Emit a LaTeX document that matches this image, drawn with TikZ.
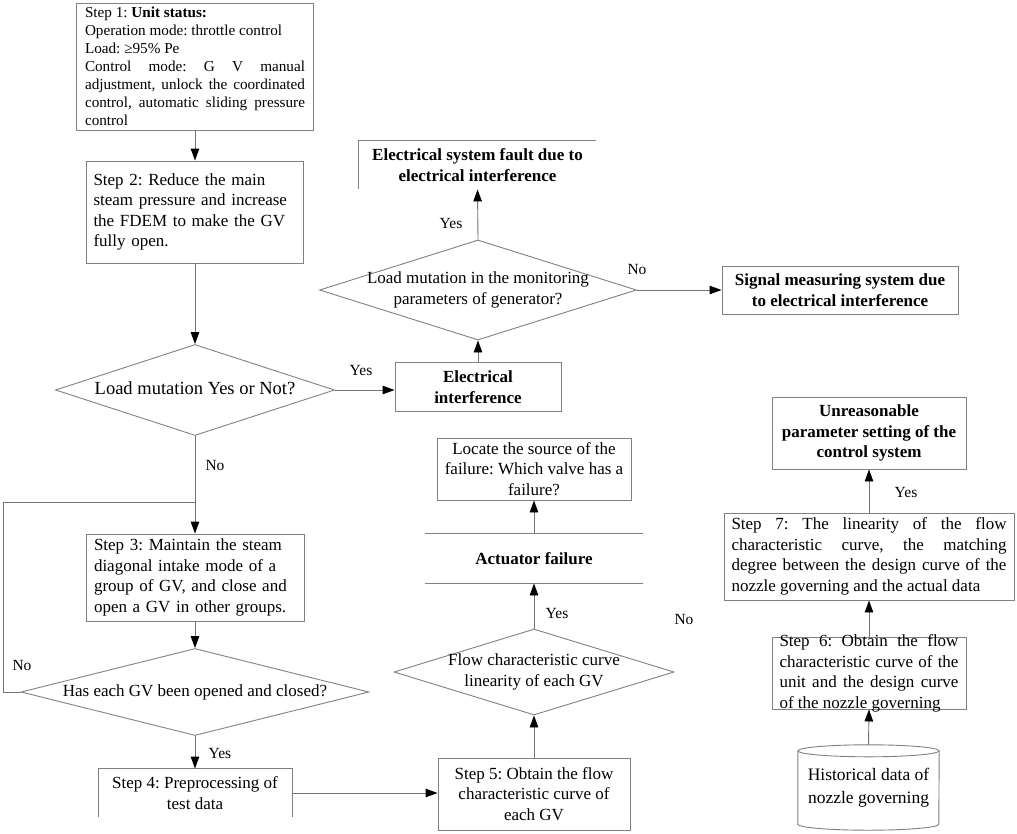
\documentclass[tikz,border=0pt]{standalone}
\usepackage{fontspec}
\setmainfont{Liberation Serif}
\usetikzlibrary{shapes.geometric,arrows.meta,calc}
\frenchspacing
\newcommand{\fs}[2]{\fontsize{#1pt}{#2pt}\selectfont}
\newcommand{\zc}[1]{\makebox[0pt]{\begin{tabular}{@{}c@{}}#1\end{tabular}}}
\newcommand{\nohy}{\frenchspacing\hyphenpenalty=10000 \exhyphenpenalty=10000 \tolerance=9999 }
\definecolor{linec}{gray}{0.5}
\definecolor{arrc}{gray}{0.45}
\begin{document}
\begin{tikzpicture}[x=1pt,y=-1pt,
 box/.style={draw=linec, line width=0.9pt, rectangle, inner sep=0pt, align=center, font=\fs{17}{20.5}\frenchspacing},
 bbox/.style={box, font=\fs{17}{20.5}\bfseries\frenchspacing},
 jbox/.style={box, align=justify, font=\fs{17}{20.5}\nohy},
 dia/.style={draw=linec, line width=0.9pt, diamond, inner sep=0pt, font=\fs{17}{20.5}},
 arr/.style={draw=arrc, line width=0.9pt, -{Triangle[length=12pt,width=8.5pt,color=black]}},
 edge/.style={draw=linec, line width=0.9pt},
 lab/.style={font=\fs{15.5}{18}, inner sep=0pt}
]
\useasboundingbox (0,0) rectangle (1017,833);

% left column
\node[jbox, text width=220pt, inner xsep=8.5pt, minimum height=127pt, font=\fs{15.2}{18}\nohy] (s1) at (195,66.5)
 {Step 1: \textbf{Unit status:}\par Operation mode: throttle control\par Load: ≥95\% Pe\par Control mode: G V manual\linebreak adjustment, unlock the coordinated\linebreak control, automatic sliding pressure\linebreak control};
\node[box, align=left, text width=203pt, inner xsep=7pt, minimum height=102pt] (s2) at (195,212)
 {Step 2: Reduce the main\\steam pressure and increase\\the FDEM to make the GV\\fully open.};
\node[dia, minimum width=279pt, minimum height=91pt, font=\fs{18.5}{22}] (d1) at (195,390)
 {\zc{Load mutation Yes or Not?}};
\node[box, align=left, text width=202pt, inner xsep=8pt, minimum height=87pt] (s3) at (195,577.5)
 {Step 3: Maintain the steam\\diagonal intake mode of a\\group of GV, and close and\\open a GV in other groups.};
\node[dia, minimum width=348pt, minimum height=87pt] (d2) at (195,692)
 {\zc{Has each GV been opened and closed?}};
\node[box, draw=none, minimum width=193pt, minimum height=48pt] (s4) at (195,793)
 {Step 4: Preprocessing of\\test data};
\draw[edge] (s4.south west) -- (s4.north west) -- (s4.north east) -- (s4.south east);

% middle column
\node[bbox, minimum width=166pt, minimum height=49pt] (ei) at (478,387)
 {Electrical\\interference};
\node[dia, minimum width=317pt, minimum height=100pt] (d3) at (478,290)
 {\zc{Load mutation in the monitoring\\parameters of generator?}};
\node[bbox, draw=none, minimum width=237pt, minimum height=48pt] (esf) at (477.5,165)
 {Electrical system fault due to\\electrical interference};
\draw[edge] (esf.south west) -- (esf.north west) -- (esf.north east);
\node[box, minimum width=194pt, minimum height=62pt] (loc) at (534,469)
 {Locate the source of the\\failure: Which valve has a\\failure?};
\node[bbox, draw=none, minimum width=217pt, minimum height=49pt] (act) at (534,558.5)
 {Actuator failure};
\draw[edge] (act.north west) -- (act.north east);
\draw[edge] (act.south west) -- (act.south east);
\node[dia, minimum width=280pt, minimum height=86pt] (d4) at (534,672)
 {\zc{Flow characteristic curve\\linearity of each GV}};
\node[box, minimum width=192pt, minimum height=72pt] (s5) at (534,794)
 {Step 5: Obtain the flow\\characteristic curve of\\each GV};

% right column
\node[bbox, minimum width=236pt, minimum height=48pt] (sig) at (840,290)
 {Signal measuring system due\\to electrical interference};
\node[bbox, minimum width=194pt, minimum height=72pt] (unr) at (869,433)
 {Unreasonable\\parameter setting of the\\control system};
\node[jbox, text width=275pt, inner xsep=7.5pt, minimum height=87pt] (s7) at (869,556.5)
 {Step 7: The linearity of the flow\linebreak characteristic curve, the matching\linebreak degree between the design curve of the\linebreak nozzle governing and the actual data};
\node[box, minimum width=194pt, minimum height=72pt] (s6) at (869,673) {};
\node[jbox, draw=none, text width=179pt] (s6t) at (869,673.5)
 {Step 6: Obtain the flow\linebreak characteristic curve of the\linebreak unit and the design curve\linebreak of the nozzle governing};
\node[inner sep=0pt, minimum width=141pt, minimum height=85pt, align=center, font=\fs{17.5}{23}] (hist) at (868.5,787.5)
 {Historical data of\\nozzle governing};
\draw[edge] ([yshift=-6pt]hist.north west) -- ([yshift=6pt]hist.south west)
  arc[start angle=180, end angle=360, x radius=70.5pt, y radius=6pt]
  -- ([yshift=-6pt]hist.north east);
\draw[edge] ([yshift=-6pt]hist.north) ellipse[x radius=70.5pt, y radius=6pt];

% connectors
\draw[arr] (s1.south) -- (s2.north);
\draw[arr] (s2.south) -- (d1.north);
\draw[arr] (d1.east) -- (d1.east -| ei.west);
\draw[arr] (ei.north) -- (d3.south);
\draw[arr] (d3.north) -- (esf.south);
\draw[arr] (d3.east) -- (d3.east -| sig.west);
\draw[arr] (d1.south) -- (s3.north);
\draw[arr] (s3.south) -- (d2.north);
\draw[arr] (d2.south) -- (s4.north);
\draw[arr] (s4.east) -- (s4.east -| s5.west);
\draw[arr] (s5.north) -- (d4.south);
\draw[arr] (d4.north) -- (act.south);
\draw[arr] (act.north) -- (loc.south);
\draw[arr] (hist.north) -- (s6.south);
\draw[arr] (s6.north) -- (s7.south);
\draw[arr] (s7.north) -- (unr.south);
\coordinate (lp) at (3,502);
\draw[draw=arrc, line width=0.9pt] (d2.west) -| (lp) -- (lp -| d1.south);

% labels
\node[lab] (y1) at (361,370) {Yes};
\node[lab] (y2) at (451,223) {Yes};
\node[lab] (n1) at (637,269) {No};
\node[lab] (n2) at (215,465) {No};
\node[lab] (n3) at (22,665) {No};
\node[lab] (y3) at (220,753) {Yes};
\node[lab] (y4) at (557,613) {Yes};
\node[lab] (n4) at (684,619) {No};
\node[lab] (y5) at (906,492) {Yes};
\end{tikzpicture}
\end{document}
